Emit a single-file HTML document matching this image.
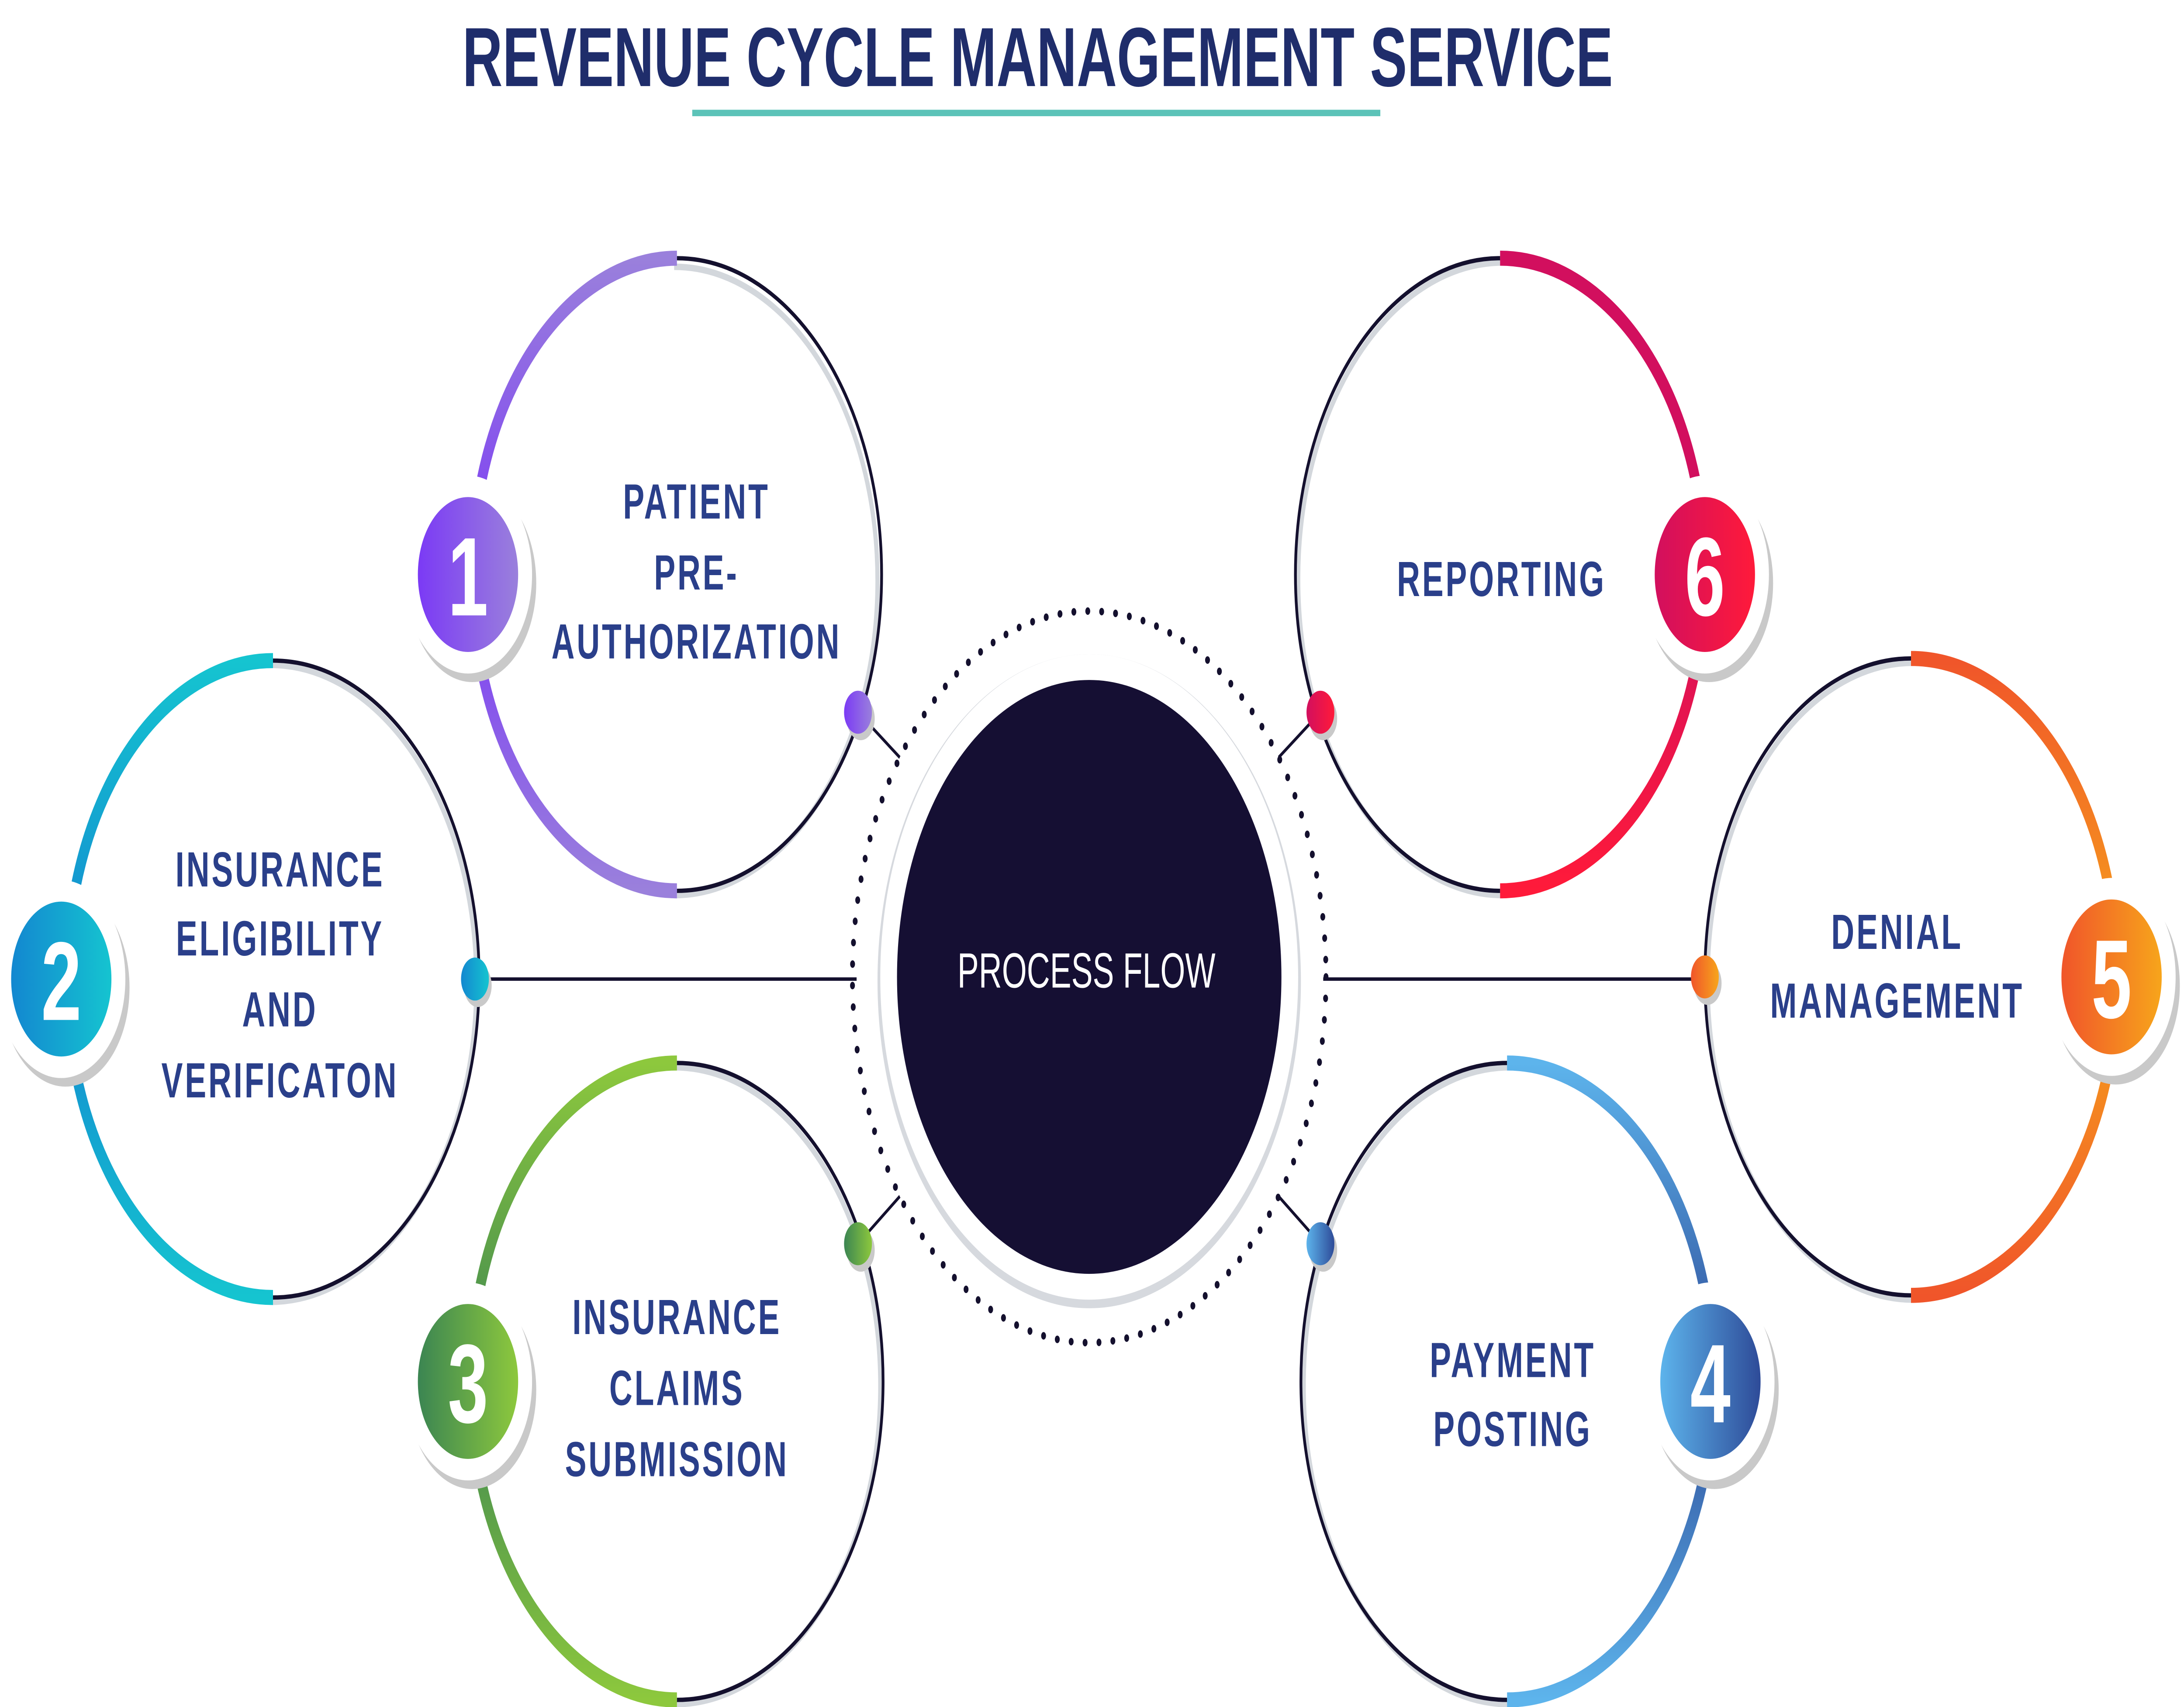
<!DOCTYPE html>
<html><head><meta charset="utf-8"><style>
html,body{margin:0;padding:0;background:#fff;width:100%;height:100%;overflow:hidden}
svg{display:block;width:100vw;height:100vh}
.lbl{font-family:"Liberation Sans",sans-serif;font-weight:bold;fill:#2a3f8a;font-size:23px;letter-spacing:1.5px;text-anchor:middle}
.num{font-family:"Liberation Sans",sans-serif;font-weight:bold;fill:#fff;font-size:52px;text-anchor:middle}
</style></head><body>
<svg viewBox="0 0 1568 793.3" preserveAspectRatio="none" xmlns="http://www.w3.org/2000/svg">
<defs>
<linearGradient id="g1" x1="0" x2="1"><stop offset="0" stop-color="#7b3af5"/><stop offset="1" stop-color="#9a80dc"/></linearGradient>
<linearGradient id="g2" x1="0" x2="1"><stop offset="0" stop-color="#1387d0"/><stop offset="1" stop-color="#15c4d0"/></linearGradient>
<linearGradient id="g3" x1="0" x2="1"><stop offset="0" stop-color="#3b8552"/><stop offset="1" stop-color="#8dc83d"/></linearGradient>
<linearGradient id="g4" x1="0" x2="1"><stop offset="0" stop-color="#5db4ec"/><stop offset="1" stop-color="#2e4b98"/></linearGradient>
<linearGradient id="g5" x1="0" x2="1"><stop offset="0" stop-color="#f0552a"/><stop offset="1" stop-color="#f7a51b"/></linearGradient>
<linearGradient id="g6" x1="0" x2="1"><stop offset="0" stop-color="#d20f5e"/><stop offset="1" stop-color="#ff1a3a"/></linearGradient>
<linearGradient id="v1" x1="0" y1="0" x2="0" y2="1"><stop offset="0" stop-color="#9a80dc"/><stop offset=".5" stop-color="#7b3af5"/><stop offset="1" stop-color="#9a80dc"/></linearGradient>
<linearGradient id="v2" x1="0" y1="0" x2="0" y2="1"><stop offset="0" stop-color="#15c4d0"/><stop offset=".5" stop-color="#1387d0"/><stop offset="1" stop-color="#15c4d0"/></linearGradient>
<linearGradient id="v3" x1="0" y1="0" x2="0" y2="1"><stop offset="0" stop-color="#8dc83d"/><stop offset=".5" stop-color="#3b8552"/><stop offset="1" stop-color="#8dc83d"/></linearGradient>
<linearGradient id="v4" x1="0" y1="0" x2="0" y2="1"><stop offset="0" stop-color="#5db4ec"/><stop offset=".5" stop-color="#2e4b98"/><stop offset="1" stop-color="#5db4ec"/></linearGradient>
<linearGradient id="v5" x1="0" y1="0" x2="0" y2="1"><stop offset="0" stop-color="#f0552a"/><stop offset=".5" stop-color="#f7a51b"/><stop offset="1" stop-color="#f0552a"/></linearGradient>
<linearGradient id="v6" x1="0" y1="0" x2="0" y2="1"><stop offset="0" stop-color="#d20f5e"/><stop offset=".5" stop-color="#d20f5e"/><stop offset="1" stop-color="#ff1a3a"/></linearGradient>
</defs>

<text x="745" y="40" font-family="Liberation Sans,sans-serif" font-weight="bold" font-size="39" fill="#1f2d6b" text-anchor="middle" textLength="826" lengthAdjust="spacingAndGlyphs">REVENUE CYCLE MANAGEMENT SERVICE</text>
<rect x="497" y="51" width="494" height="3" fill="#5cc3b8"/>

<g stroke="#14102e" stroke-width="1.6" fill="none">
<line x1="341" y1="455" x2="615" y2="455"/>
<line x1="950" y1="455" x2="1224" y2="455"/>
<line x1="616" y1="331" x2="646" y2="352"/>
<line x1="616" y1="578" x2="646" y2="556"/>
<line x1="948" y1="331" x2="918" y2="352"/>
<line x1="948" y1="578" x2="918" y2="556"/>
</g>

<circle cx="782" cy="454" r="170" fill="none" stroke="#14102e" stroke-width="3.5" stroke-dasharray="0 10" stroke-linecap="round"/>
<circle cx="782" cy="456" r="152" fill="#d6d9de"/>
<circle cx="782" cy="454" r="150" fill="#fff"/>
<circle cx="782" cy="454" r="138" fill="#150f33"/>
<text x="780" y="459" font-family="Liberation Sans,sans-serif" font-size="23" fill="#fff" text-anchor="middle">PROCESS FLOW</text>

<g fill="none">
<path d="M486,122 A146,146 0 0 1 486,414" stroke="#d3d7dc" stroke-width="3" transform="translate(-2,2)"/>
<path d="M486,120 A147,147 0 0 1 486,414" stroke="#14102e" stroke-width="2"/>
<path d="M486,120 A147,147 0 0 0 486,414" stroke="url(#v1)" stroke-width="7"/>
<path d="M196,307 A148,148 0 0 1 196,603" stroke="#d3d7dc" stroke-width="3" transform="translate(-2,2)"/>
<path d="M196,307 A148,148 0 0 1 196,603" stroke="#14102e" stroke-width="2"/>
<path d="M196,307 A148,148 0 0 0 196,603" stroke="url(#v2)" stroke-width="7"/>
<path d="M486,494 A148,148 0 0 1 486,790" stroke="#d3d7dc" stroke-width="3" transform="translate(-2,2)"/>
<path d="M486,494 A148,148 0 0 1 486,790" stroke="#14102e" stroke-width="2"/>
<path d="M486,494 A148,148 0 0 0 486,790" stroke="url(#v3)" stroke-width="7"/>
<path d="M1077,120 A147,147 0 0 0 1077,414" stroke="#d3d7dc" stroke-width="3" transform="translate(2,2)"/>
<path d="M1077,120 A147,147 0 0 0 1077,414" stroke="#14102e" stroke-width="2"/>
<path d="M1077,120 A147,147 0 0 1 1077,414" stroke="url(#v6)" stroke-width="7"/>
<path d="M1372,306 A148,148 0 0 0 1372,602" stroke="#d3d7dc" stroke-width="3" transform="translate(2,2)"/>
<path d="M1372,306 A148,148 0 0 0 1372,602" stroke="#14102e" stroke-width="2"/>
<path d="M1372,306 A148,148 0 0 1 1372,602" stroke="url(#v5)" stroke-width="7"/>
<path d="M1082,494 A148,148 0 0 0 1082,790" stroke="#d3d7dc" stroke-width="3" transform="translate(2,2)"/>
<path d="M1082,494 A148,148 0 0 0 1082,790" stroke="#14102e" stroke-width="2"/>
<path d="M1082,494 A148,148 0 0 1 1082,790" stroke="url(#v4)" stroke-width="7"/>
</g>

<g>
<circle cx="339" cy="271" r="46" fill="#c9c9c9"/><circle cx="336" cy="267" r="46" fill="#fff"/><circle cx="336" cy="267" r="36" fill="url(#g1)"/>
<text class="num" x="336" y="286">1</text>
<circle cx="47" cy="459" r="46" fill="#c9c9c9"/><circle cx="44" cy="455" r="46" fill="#fff"/><circle cx="44" cy="455" r="36" fill="url(#g2)"/>
<text class="num" x="44" y="474">2</text>
<circle cx="339" cy="646" r="46" fill="#c9c9c9"/><circle cx="336" cy="642" r="46" fill="#fff"/><circle cx="336" cy="642" r="36" fill="url(#g3)"/>
<text class="num" x="336" y="661">3</text>
<circle cx="1227" cy="271" r="46" fill="#c9c9c9"/><circle cx="1224" cy="267" r="46" fill="#fff"/><circle cx="1224" cy="267" r="36" fill="url(#g6)"/>
<text class="num" x="1224" y="286">6</text>
<circle cx="1519" cy="458" r="46" fill="#c9c9c9"/><circle cx="1516" cy="454" r="46" fill="#fff"/><circle cx="1516" cy="454" r="36" fill="url(#g5)"/>
<text class="num" x="1516" y="473">5</text>
<circle cx="1231" cy="646" r="46" fill="#c9c9c9"/><circle cx="1228" cy="642" r="46" fill="#fff"/><circle cx="1228" cy="642" r="36" fill="url(#g4)"/>
<text class="num" x="1228" y="661">4</text>
</g>

<g>
<circle cx="618" cy="334" r="10" fill="#c9c9c9"/><circle cx="616" cy="331" r="10" fill="url(#g1)"/>
<circle cx="343" cy="458" r="10" fill="#c9c9c9"/><circle cx="341" cy="455" r="10" fill="url(#g2)"/>
<circle cx="618" cy="581" r="10" fill="#c9c9c9"/><circle cx="616" cy="578" r="10" fill="url(#g3)"/>
<circle cx="950" cy="334" r="10" fill="#c9c9c9"/><circle cx="948" cy="331" r="10" fill="url(#g6)"/>
<circle cx="1226" cy="457" r="10" fill="#c9c9c9"/><circle cx="1224" cy="454" r="10" fill="url(#g5)"/>
<circle cx="950" cy="581" r="10" fill="#c9c9c9"/><circle cx="948" cy="578" r="10" fill="url(#g4)"/>
</g>

<text class="lbl" x="500" y="241">PATIENT</text>
<text class="lbl" x="500" y="274">PRE-</text>
<text class="lbl" x="500" y="306">AUTHORIZATION</text>

<text class="lbl" x="201" y="412">INSURANCE</text>
<text class="lbl" x="201" y="444">ELIGIBILITY</text>
<text class="lbl" x="201" y="477">AND</text>
<text class="lbl" x="201" y="510">VERIFICATON</text>

<text class="lbl" x="486" y="620">INSURANCE</text>
<text class="lbl" x="486" y="653">CLAIMS</text>
<text class="lbl" x="486" y="686">SUBMISSION</text>

<text class="lbl" x="1078" y="277">REPORTING</text>

<text class="lbl" x="1362" y="441">DENIAL</text>
<text class="lbl" x="1362" y="473">MANAGEMENT</text>

<text class="lbl" x="1086" y="640">PAYMENT</text>
<text class="lbl" x="1086" y="672">POSTING</text>
</svg>
</body></html>
